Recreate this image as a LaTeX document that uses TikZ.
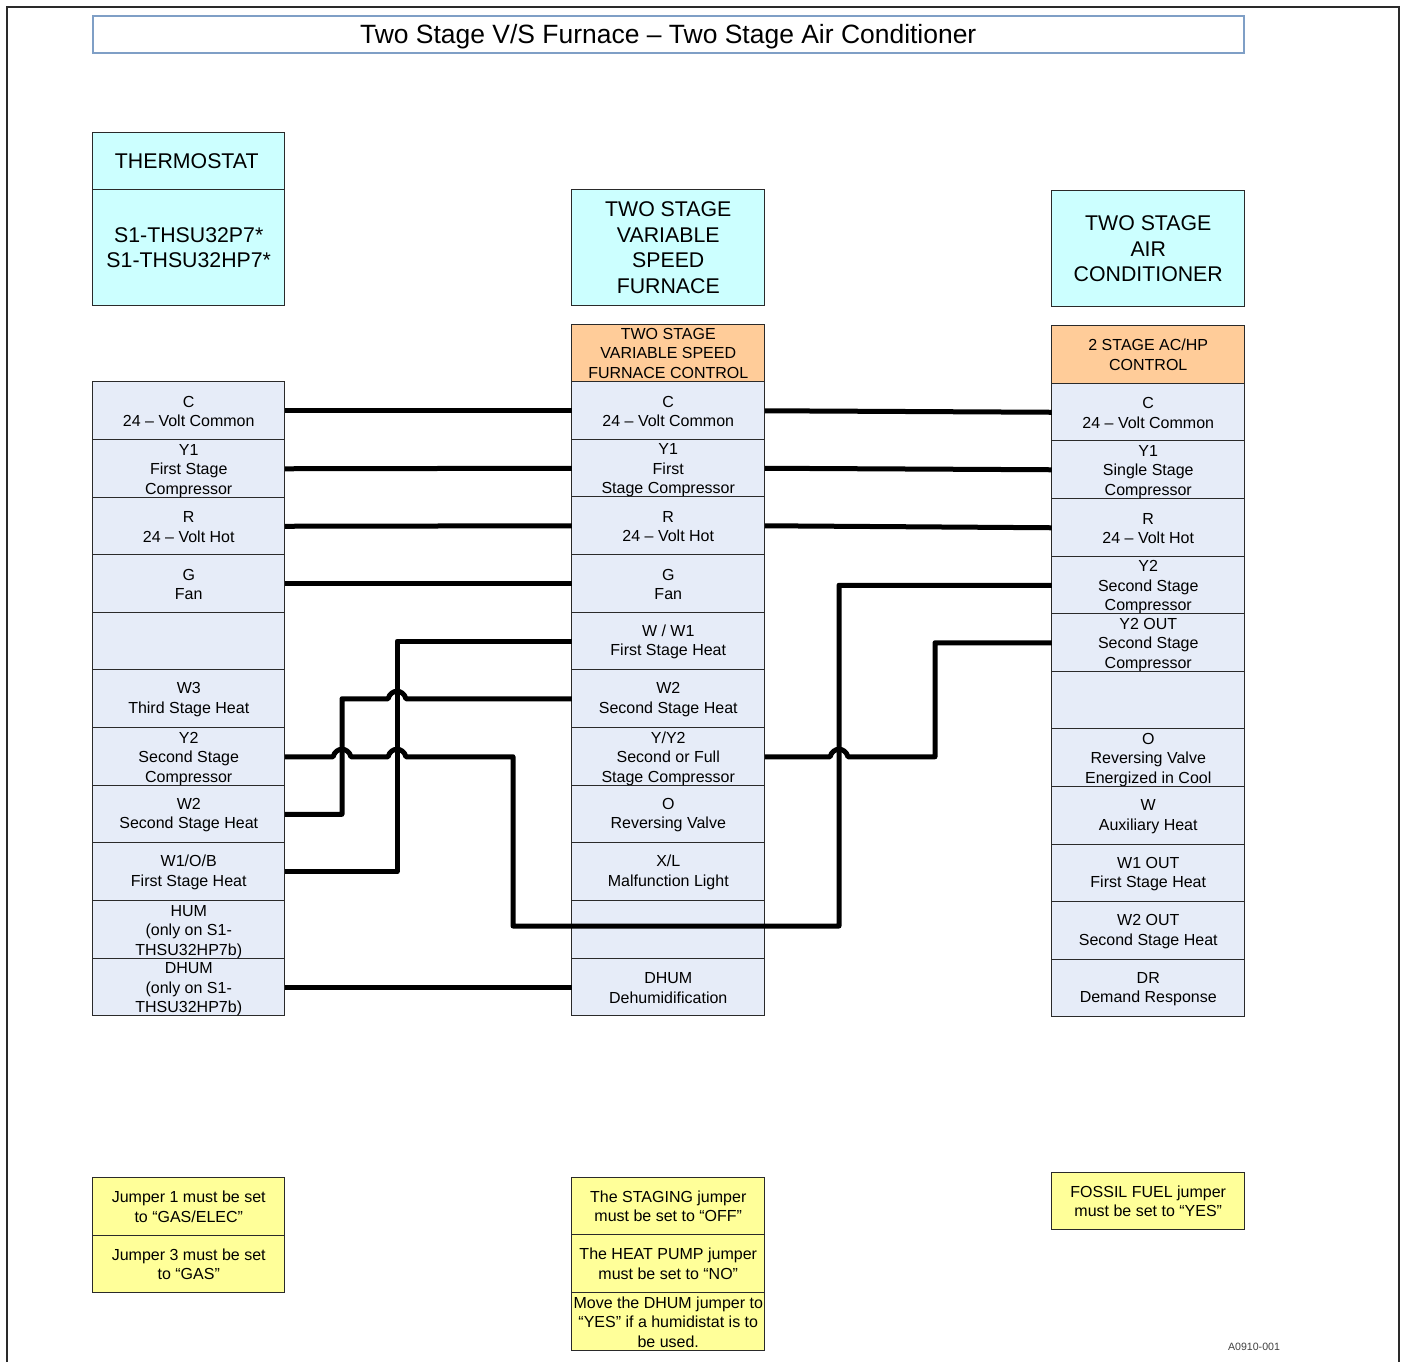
\documentclass[tikz,border=0pt]{standalone}
\usepackage{fontspec}
\setmainfont{Liberation Sans}
\usetikzlibrary{calc}
\definecolor{hdrcyan}{HTML}{CCFFFF}
\definecolor{ctrlorange}{HTML}{FFCC99}
\definecolor{cellblue}{HTML}{E6ECF8}
\definecolor{noteyellow}{HTML}{FFFF99}
\definecolor{titleline}{HTML}{7F9FC6}
\definecolor{edgegrey}{HTML}{2A2A2A}
\def\leadstrut{}
\tikzset{
  base/.style={draw=edgegrey,line width=0.5pt,inner sep=0pt,outer sep=0pt,align=center,text=black},
  headbox/.style={base,fill=hdrcyan,font=\fontsize{10.65}{12.9}\selectfont},
  ctrlbox/.style={base,fill=ctrlorange,font=\fontsize{8}{9.75}\selectfont},
  cellbox/.style={base,fill=cellblue,font=\fontsize{8}{9.75}\selectfont\def\leadstrut{\rule{0pt}{6.4pt}}},
  cellthree/.style={base,fill=cellblue,font=\fontsize{8}{9.75}\selectfont\def\leadstrut{\rule{0pt}{7.5pt}}},
  notebox/.style={base,fill=noteyellow,font=\fontsize{8}{9.75}\selectfont},
  titlebox/.style={draw=titleline,line width=1pt,fill=white,inner sep=0pt,outer sep=0pt,font=\fontsize{13.23}{16}\selectfont\def\leadstrut{\rule{0pt}{12pt}}},
  wire/.style={line width=2.5pt,draw=black,line join=round},
  framecurve/.style={draw=edgegrey,line width=0.8pt},
  codetext/.style={text=black!75,inner sep=0pt,font=\fontsize{5.3}{6}\selectfont}
}
\newcommand\bx[7]{%
  \pgfmathsetmacro\bxw{(#5-#3)*0.5}%
  \pgfmathsetmacro\bxh{(#6-#4)*0.5}%
  \node[#1,minimum width=\bxw pt,minimum height=\bxh pt] (#2) at ({(#3+#5)/2-0.25},{(#4+#6)/2-0.25}) {\leadstrut #7};%
}
\def\hop#1{-- ($(#1)+(-9,0)$) .. controls ($(#1)+(-6,-10)$) and ($(#1)+(6,-10)$) .. ($(#1)+(9,0)$)}
\begin{document}
\begin{tikzpicture}[x=0.5pt,y=-0.5pt]
\useasboundingbox (0,0) rectangle (1401,1362);
\draw[framecurve] (7,1362) -- (7,7) -- (1399,7) -- (1399,1362);
\bx{titlebox}{title}{93}{16}{1244}{53}{Two Stage V/S Furnace – Two Stage Air Conditioner}
% headers
\bx{headbox,execute at begin node={\hspace*{-2pt}}}{hT}{93}{133}{285}{190}{THERMOSTAT}
\bx{headbox}{hTm}{93}{190}{285}{306}{S1-THSU32P7*\\S1-THSU32HP7*}
\bx{headbox}{hF}{572}{190}{765}{306}{TWO STAGE\\VARIABLE\\SPEED\\FURNACE}
\bx{headbox}{hA}{1052}{191}{1245}{307}{TWO STAGE\\AIR\\CONDITIONER}
\bx{ctrlbox}{cF}{572}{325}{765}{382}{TWO STAGE\\VARIABLE SPEED\\FURNACE CONTROL}
\bx{ctrlbox}{cA}{1052}{326}{1245}{384}{2 STAGE AC/HP\\CONTROL}
% left column
\bx{cellbox}{lC}{93}{382}{285}{440}{C\\24 – Volt Common}
\bx{cellthree}{lYa}{93}{440}{285}{498}{Y1\\First Stage\\Compressor}
\bx{cellbox}{lR}{93}{498}{285}{555}{R\\24 – Volt Hot}
\bx{cellbox}{lG}{93}{555}{285}{613}{G\\Fan}
\bx{cellbox}{lE}{93}{613}{285}{670}{}
\bx{cellbox}{lWc}{93}{670}{285}{728}{W3\\Third Stage Heat}
\bx{cellthree}{lYb}{93}{728}{285}{786}{Y2\\Second Stage\\Compressor}
\bx{cellbox}{lWb}{93}{786}{285}{843}{W2\\Second Stage Heat}
\bx{cellbox}{lWa}{93}{843}{285}{901}{W1/O/B\\First Stage Heat}
\bx{cellthree}{lH}{93}{901}{285}{959}{HUM\\(only on S1-\\THSU32HP7b)}
\bx{cellthree}{lD}{93}{959}{285}{1016}{DHUM\\(only on S1-\\THSU32HP7b)}
% middle column
\bx{cellbox}{mC}{572}{382}{765}{440}{C\\24 – Volt Common}
\bx{cellthree}{mYa}{572}{440}{765}{497}{Y1\\First\\Stage Compressor}
\bx{cellbox}{mR}{572}{497}{765}{555}{R\\24 – Volt Hot}
\bx{cellbox}{mG}{572}{555}{765}{613}{G\\Fan}
\bx{cellbox}{mWa}{572}{613}{765}{670}{W / W1\\First Stage Heat}
\bx{cellbox}{mWb}{572}{670}{765}{728}{W2\\Second Stage Heat}
\bx{cellthree}{mY}{572}{728}{765}{786}{Y/Y2\\Second or Full\\Stage Compressor}
\bx{cellbox}{mO}{572}{786}{765}{843}{O\\Reversing Valve}
\bx{cellbox}{mX}{572}{843}{765}{901}{X/L\\Malfunction Light}
\bx{cellbox}{mE}{572}{901}{765}{959}{}
\bx{cellbox}{mD}{572}{959}{765}{1016}{DHUM\\Dehumidification}
% right column
\bx{cellbox}{rC}{1052}{384}{1245}{441}{C\\24 – Volt Common}
\bx{cellthree}{rYa}{1052}{441}{1245}{499}{Y1\\Single Stage\\Compressor}
\bx{cellbox}{rR}{1052}{499}{1245}{557}{R\\24 – Volt Hot}
\bx{cellthree}{rYb}{1052}{557}{1245}{614}{Y2\\Second Stage\\Compressor}
\bx{cellthree}{rYo}{1052}{614}{1245}{672}{Y2 OUT\\Second Stage\\Compressor}
\bx{cellbox}{rE}{1052}{672}{1245}{729}{}
\bx{cellthree}{rO}{1052}{729}{1245}{787}{O\\Reversing Valve\\Energized in Cool}
\bx{cellbox}{rW}{1052}{787}{1245}{845}{W\\Auxiliary Heat}
\bx{cellbox}{rWa}{1052}{845}{1245}{902}{W1 OUT\\First Stage Heat}
\bx{cellbox}{rWb}{1052}{902}{1245}{960}{W2 OUT\\Second Stage Heat}
\bx{cellbox}{rD}{1052}{960}{1245}{1017}{DR\\Demand Response}
% notes
\bx{notebox}{nLa}{93}{1178}{285}{1236}{Jumper 1 must be set\\to “GAS/ELEC”}
\bx{notebox}{nLb}{93}{1236}{285}{1293}{Jumper 3 must be set\\to “GAS”}
\bx{notebox}{nMa}{572}{1178}{765}{1235}{The STAGING jumper\\must be set to “OFF”}
\bx{notebox}{nMb}{572}{1235}{765}{1293}{The HEAT PUMP jumper\\must be set to “NO”}
\bx{notebox}{nMc}{572}{1293}{765}{1351}{Move the DHUM jumper to\\“YES” if a humidistat is to\\be used.}
\bx{notebox}{nR}{1052}{1173}{1245}{1230}{FOSSIL FUEL jumper\\must be set to “YES”}
\node[codetext] (code) at (1254,1347) {A0910-001};
% routing coordinates
\coordinate (vA) at (342,0);
\coordinate (vB) at (397,0);
\coordinate (vC) at (513,926);
\coordinate (vD) at (839,926);
\coordinate (vE) at (935,0);
\coordinate (hopA) at (vA |- lYb.east);
\coordinate (hopB) at (vB |- lYb.east);
\coordinate (hopC) at (vB |- mWb.west);
\coordinate (hopD) at (vD |- mY.east);
% wires
\draw[wire] (lC.east) -- (mC.west);
\draw[wire] (lYa.east) -- (mYa.west);
\draw[wire] (lR.east) -- (mR.west);
\draw[wire] (lG.east) -- (mG.west);
\draw[wire] (lD.east) -- (mD.west);
\draw[wire] (mC.east) -- (rC.west);
\draw[wire] (mYa.east) -- (rYa.west);
\draw[wire] (mR.east) -- (rR.west);
\draw[wire] (lWa.east) -| (vB |- mWa.west) -- (mWa.west);
\draw[wire] (lWb.east) -| (vA |- mWb.west) \hop{hopC} -- (mWb.west);
\draw[wire] (lYb.east) \hop{hopA} \hop{hopB} -| (vC) -- (vD) |- (rYb.west);
\draw[wire] (mY.east) \hop{hopD} -| (vE |- rYo.west) -- (rYo.west);
\end{tikzpicture}
\end{document}
